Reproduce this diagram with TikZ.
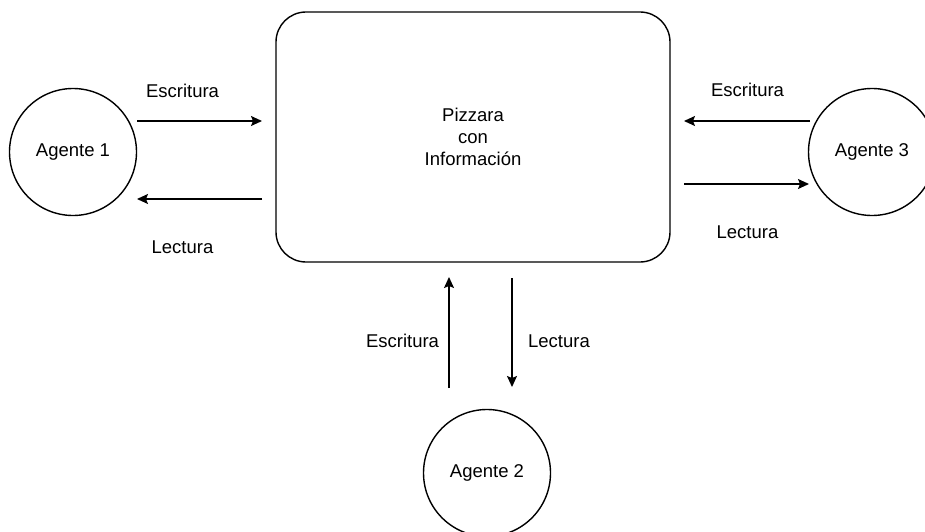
\documentclass[tikz,border=0pt]{standalone}
\usepackage{fontspec}
\setmainfont{Liberation Sans}
\usetikzlibrary{arrows.meta}
\begin{document}
\begin{tikzpicture}[x=1pt,y=-1pt,
  line width=1.4pt,
  txt/.style={font=\fontsize{18.5}{22}\selectfont, inner sep=0pt},
  agent/.style={circle, draw, minimum size=127pt, inner sep=0pt, txt},
  board/.style={draw, rounded corners=30pt, minimum width=394pt, minimum height=250pt, align=center, txt},
  flow/.style={-{Stealth[length=11pt,width=10pt,inset=2pt]}},
  lbl/.style={txt}
]
\useasboundingbox (0,0) rectangle (925,532);
\clip (0,0) rectangle (925,532);

% blackboard and agents
\node[board] (pz) at (473,137) {Pizzara\\con\\Información};
\node[agent] (a1) at (73,152) {Agente 1};
\node[agent] (a3) at (872,152) {Agente 3};
\node[agent] (a2) at (487,473) {Agente 2};

% arrow end points
\coordinate (e1s) at (137,121);  \coordinate (e1t) at (262,121);
\coordinate (l1s) at (262,199);  \coordinate (l1t) at (137,199);
\coordinate (e3s) at (810,121);  \coordinate (e3t) at (684,121);
\coordinate (l3s) at (684,184);  \coordinate (l3t) at (809,184);
\coordinate (e2s) at (449,388);  \coordinate (e2t) at (449,277);
\coordinate (l2s) at (512,278);  \coordinate (l2t) at (512,387);

\draw[flow] (e1s) -- (e1t);
\draw[flow] (l1s) -- (l1t);
\draw[flow] (e3s) -- (e3t);
\draw[flow] (l3s) -- (l3t);
\draw[flow] (e2s) -- (e2t);
\draw[flow] (l2s) -- (l2t);

% labels
\node[lbl] (t1) at (182.5,91) {Escritura};
\node[lbl] (t2) at (182.5,247) {Lectura};
\node[lbl] (t3) at (747.5,90) {Escritura};
\node[lbl] (t4) at (747.5,232) {Lectura};
\node[lbl] (t5) at (402.5,341) {Escritura};
\node[lbl] (t6) at (559,341) {Lectura};
\end{tikzpicture}
\end{document}
